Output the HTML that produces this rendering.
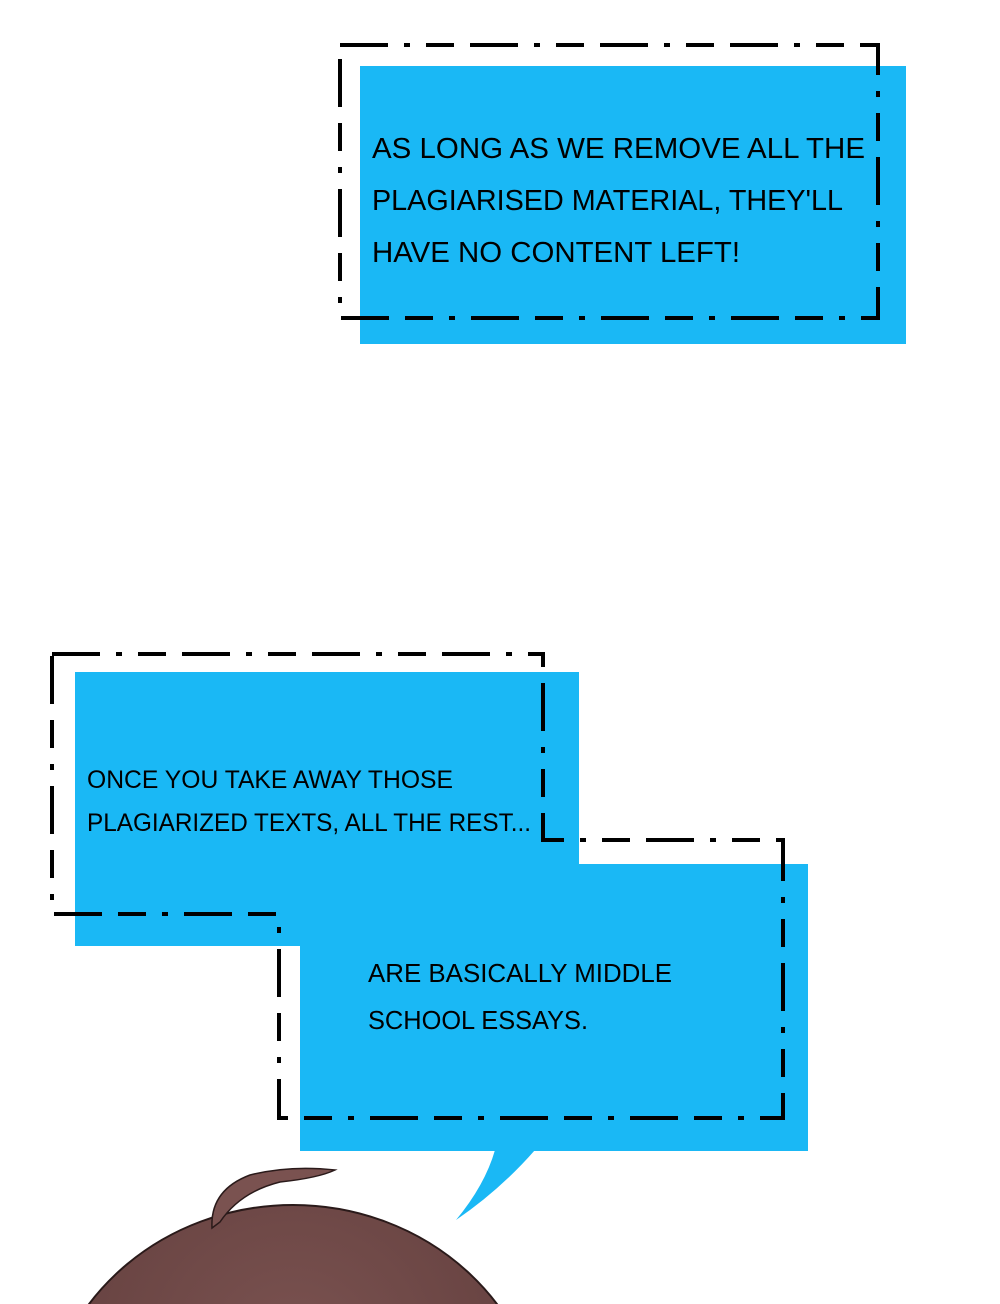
<!DOCTYPE html>
<html><head><meta charset="utf-8"><style>
html,body{margin:0;padding:0;background:#fff;width:1000px;height:1304px;overflow:hidden;}
svg{display:block;}
text{font-family:"Liberation Sans",sans-serif;fill:#000;}
</style></head><body>
<svg width="1000" height="1304" viewBox="0 0 1000 1304" xmlns="http://www.w3.org/2000/svg">
<defs>
<radialGradient id="hg" cx="0.5" cy="0.3" r="0.7">
<stop offset="0" stop-color="#7a5250"/><stop offset="1" stop-color="#5e3b3a"/>
</radialGradient>
</defs>
<rect x="360" y="66" width="546" height="278" fill="#1ab8f5"/>
<rect x="340" y="45" width="538" height="273" fill="none" stroke="#000" stroke-width="4" stroke-dasharray="48 16 6 16 28 16"/>
<text x="372" y="158" font-size="29" textLength="493" lengthAdjust="spacingAndGlyphs">AS LONG AS WE REMOVE ALL THE</text>
<text x="372" y="210" font-size="29" textLength="471" lengthAdjust="spacingAndGlyphs">PLAGIARISED MATERIAL, THEY'LL</text>
<text x="372" y="262" font-size="29" textLength="368" lengthAdjust="spacingAndGlyphs">HAVE NO CONTENT LEFT!</text>

<rect x="75" y="672" width="504" height="274" fill="#1ab8f5"/>
<rect x="300" y="864" width="508" height="287" fill="#1ab8f5"/>
<path d="M495 1150 L535 1150 Q500 1190 456 1220 Q485 1185 495 1150 Z" fill="#1ab8f5"/>
<path d="M52 654 L543 654 L543 840 L783 840 L783 1118 L279 1118 L279 914 L52 914 Z" fill="none" stroke="#000" stroke-width="4" stroke-dasharray="48 16 6 16 28 16"/>
<text x="87" y="788" font-size="25" textLength="366" lengthAdjust="spacingAndGlyphs">ONCE YOU TAKE AWAY THOSE</text>
<text x="87" y="831" font-size="25" textLength="444" lengthAdjust="spacingAndGlyphs">PLAGIARIZED TEXTS, ALL THE REST...</text>
<text x="368" y="982" font-size="26" textLength="304" lengthAdjust="spacingAndGlyphs">ARE BASICALLY MIDDLE</text>
<text x="368" y="1029" font-size="26" textLength="220" lengthAdjust="spacingAndGlyphs">SCHOOL ESSAYS.</text>

<ellipse cx="293" cy="1440" rx="250" ry="235" fill="url(#hg)" stroke="#2a1a1a" stroke-width="2"/>
<path d="M212 1228 Q210 1190 250 1175 Q290 1165 335 1170 Q318 1178 280 1182 Q240 1192 220 1222 Z" fill="#7a5250" stroke="#2a1a1a" stroke-width="1.5"/>
</svg>
</body></html>
